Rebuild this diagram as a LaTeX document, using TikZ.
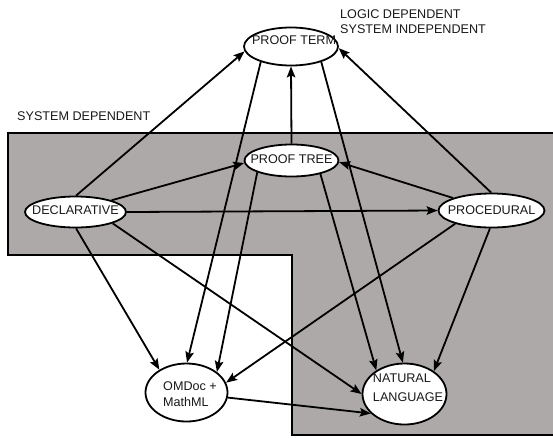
\documentclass[tikz,border=0pt]{standalone}
\usepackage{fontspec}
\setmainfont{Liberation Sans}
\usetikzlibrary{shapes.geometric,arrows.meta}
\definecolor{bggray}{RGB}{173,169,169}
\definecolor{ink}{RGB}{25,25,25}
\begin{document}
\begin{tikzpicture}[x=1pt,y=-1pt,
  font=\fontsize{12.6}{15}\selectfont, text=ink,
  ell/.style={ellipse, draw, fill=white, line width=1.8pt, inner sep=0pt},
  arr/.style={-{Stealth[length=11pt,width=8.5pt,inset=2pt]}, line width=1.8pt},
  lbl/.style={anchor=west, inner sep=0pt}]
\useasboundingbox (0,0) rectangle (553,437);
% system dependent region
\fill[bggray] (8,133) -- (555,133) -- (555,435) -- (292,435) -- (292,255) -- (8,255) -- cycle;
\draw[line width=1.8pt] (556,133) -- (8,133) -- (8,255) -- (292,255) -- (292,435) -- (556,435);
% free labels
\node[lbl] (l1) at (340,14) {LOGIC DEPENDENT};
\node[lbl] (l2) at (340,29.5) {SYSTEM INDEPENDENT};
\node[lbl] (l3) at (17,116.5) {SYSTEM DEPENDENT};
% nodes
\node[ell, minimum width=94pt, minimum height=38pt, text depth=12pt] (term) at (291,46.5) {\makebox[0pt]{\hspace{6pt}PROOF TERM}};
\node[ell, minimum width=94pt, minimum height=32pt, text depth=3pt] (tree) at (291.5,160.5) {\makebox[0pt]{PROOF TREE}};
\node[ell, minimum width=101pt, minimum height=31pt, text depth=4pt] (decl) at (75.5,212) {\makebox[0pt]{DECLARATIVE}};
\node[ell, minimum width=106pt, minimum height=34pt, text depth=1pt] (proc) at (491.5,210.5) {\makebox[0pt]{PROCEDURAL}};
\node[ell, minimum width=82pt, minimum height=58pt, text height=32pt, text depth=4pt] (omdoc) at (186.5,392.5)
  {\makebox[0pt]{\hspace{7pt}\begin{tabular}[b]{@{}l@{}}OMDoc +\\[1pt]MathML\end{tabular}}};
\node[ell, minimum width=84pt, minimum height=61pt, text height=28pt, text depth=13pt] (nat) at (404.5,394)
  {\makebox[0pt]{\hspace{7pt}\begin{tabular}[b]{@{}l@{}}NATURAL\\[4pt]LANGUAGE\end{tabular}}};
% connectors
\draw[arr] (decl.88) -- (term.186);
\draw[arr] (decl.18) -- (tree.183);
\draw[arr] (decl.east) -- (proc.west);
\draw[arr] (decl.272) -- (omdoc.140);
\draw[arr] (decl.343) -- (nat.180);
\draw[arr] (tree.north) -- (term.south);
\draw[arr] (proc.162) -- (tree.358);
\draw[arr] (proc.91) -- (term.358);
\draw[arr] (proc.200) -- (omdoc.14);
\draw[arr] (proc.265) -- (nat.38);
\draw[arr] (term.207) -- (omdoc.89);
\draw[arr] (tree.199) -- (omdoc.34);
\draw[arr] (term.333) -- (nat.93);
\draw[arr] (tree.335) -- (nat.140);
\draw[arr] (omdoc.353) -- (nat.210);
\end{tikzpicture}
\end{document}
